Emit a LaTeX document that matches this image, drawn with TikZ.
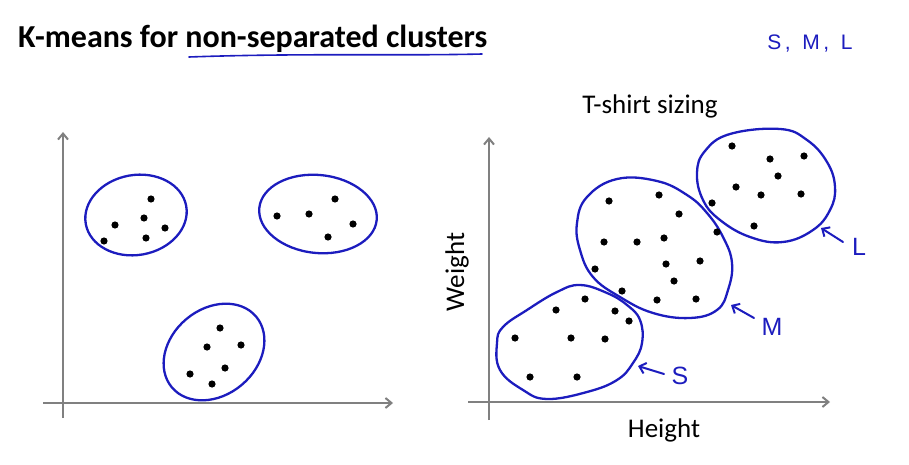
\documentclass[tikz,border=0pt]{standalone}
\usepackage{fontspec}
\setmainfont{Carlito}
\newfontfamily\handfont{Liberation Sans}
\usetikzlibrary{arrows.meta}
\definecolor{penblue}{RGB}{28,28,190}
\definecolor{axisgray}{RGB}{128,128,128}
\tikzset{
  axis/.style={draw=axisgray,line width=2pt,-{Straight Barb[length=6pt,width=10pt]}},
  blob/.style={draw=penblue,line width=2.3pt},
  pen/.style={draw=penblue,line width=2pt,line cap=round,line join=round},
  handlabel/.style={text=penblue,font=\handfont\fontsize{25}{28}\selectfont,inner sep=0pt},
  dot/.style={fill=black}
}
\begin{document}
\begin{tikzpicture}[x=1pt,y=-1pt]
  \useasboundingbox (0,0) rectangle (909,465);
  \node[anchor=base west,inner sep=0pt,font=\bfseries\fontsize{32}{38}\selectfont] (title) at (18,48) {K-means for non-separated clusters};
  \draw[pen,line width=1.6pt] (189,57) .. controls (300,53) and (400,56) .. (482,54);
  \node[handlabel,font=\handfont\fontsize{21}{24}\selectfont] (smlnote) at (810,44) {S\,,\ \ M\,,\ \ L};
  % left plot
  \draw[axis] (63,418) -- (63,132);
  \draw[axis] (43,403) -- (393,403);
  \draw[blob,rotate around={10:(136,215)}] (136,215) ellipse (51 and 40);
  \draw[blob,rotate around={-6:(318,214)}] (318,214) ellipse (59 and 39);
  \draw[blob,rotate around={40:(214,352)}] (214,352) ellipse (55 and 43);
  \foreach \p in {(151,199),(115,225),(144,218),(165,228),(104,241),(146,238),
                  (335,199),(277,216),(309,214),(353,224),(328,237),
                  (220,328),(207,347),(241,345),(225,368),(190,374),(212,384)}
    \fill[dot] \p circle (3.6pt);
  % right plot
  \node[font=\fontsize{27}{31}\selectfont,inner sep=0pt] (shirt) at (650,106) {T-shirt sizing};
  \draw[axis] (489,420) -- (489,137);
  \draw[axis] (468,402) -- (830,402);
  \node[font=\fontsize{27}{31}\selectfont,rotate=90,inner sep=0pt] (wlabel) at (457,272) {Weight};
  \node[font=\fontsize{27}{31}\selectfont,inner sep=0pt] (hlabel) at (664,430) {Height};
  \draw[blob] plot[smooth cycle,tension=0.7] coordinates {(780,129) (807,140) (827,162) (835,187) (830,210) (813,230) (783,242) (750,237) (720,220) (703,200) (697,173) (705,151) (730,134)};
  \draw[blob] plot[smooth cycle,tension=0.7] coordinates {(617,179) (657,181) (687,195) (707,213) (723,237) (732,263) (728,290) (717,310) (690,318) (653,313) (620,297) (593,277) (580,250) (577,223) (587,197)};
  \draw[blob] plot[smooth cycle,tension=0.7] coordinates {(580,285) (607,293) (627,305) (640,320) (642,343) (633,363) (617,380) (587,392) (547,399) (523,390) (500,370) (497,343) (503,327) (527,310) (557,292)};
  \foreach \p in {(732,146),(770,159),(804,156),(778,176),(736,187),(761,195),(801,194),(712,203),(754,226),
                  (609,201),(659,195),(679,214),(717,232),(604,242),(637,242),(664,238),(595,269),(666,264),(700,261),(674,281),(622,291),(657,300),(696,299),
                  (585,299),(556,310),(615,311),(629,321),(515,338),(571,338),(605,339),(530,377),(577,377)}
    \fill[dot] \p circle (3.6pt);
  % size tags
  \node[handlabel] (slabel) at (680,376) {S};
  \node[handlabel] (mlabel) at (772,327) {M};
  \node[handlabel] (llabel) at (859,247) {L};
  \coordinate (sfrom) at (664,374);
  \coordinate (sto) at (638,366);
  \coordinate (mfrom) at (754,318);
  \coordinate (mto) at (731,305);
  \coordinate (lfrom) at (843,242);
  \coordinate (lto) at (821,228);
  \draw[pen,-{Straight Barb[length=6pt,width=11pt]}] (sfrom) -- (sto);
  \draw[pen,-{Straight Barb[length=6pt,width=11pt]}] (mfrom) -- (mto);
  \draw[pen,-{Straight Barb[length=6pt,width=11pt]}] (lfrom) -- (lto);
\end{tikzpicture}
\end{document}
